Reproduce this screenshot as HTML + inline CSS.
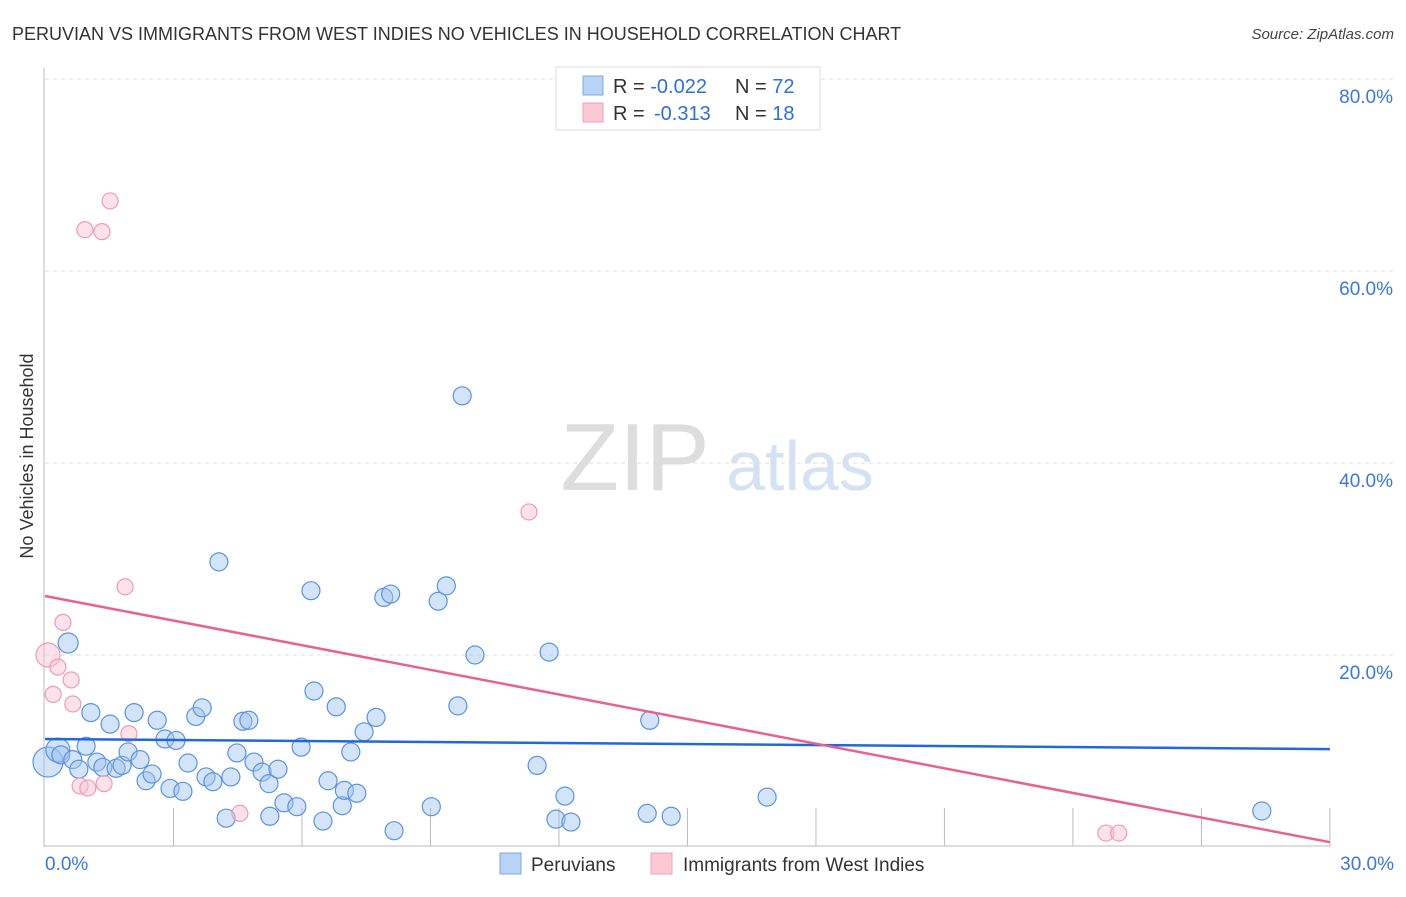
<!DOCTYPE html>
<html><head><meta charset="utf-8"><style>
body{margin:0;background:#fff;font-family:"Liberation Sans",sans-serif}
svg text{font-family:"Liberation Sans",sans-serif}
</style></head><body>
<svg id="chart" width="1406" height="892">
<text x="12" y="40" font-size="18" fill="#333">PERUVIAN VS IMMIGRANTS FROM WEST INDIES NO VEHICLES IN HOUSEHOLD CORRELATION CHART</text>
<text x="1394" y="39" font-size="15" fill="#444" font-style="italic" text-anchor="end">Source: ZipAtlas.com</text>
<text x="33" y="456" font-size="18" fill="#333" text-anchor="middle" transform="rotate(-90 33 456)">No Vehicles in Household</text>
<g><text x="635" y="490" font-size="96" fill="#ddd" font-family="Liberation Serif" text-anchor="middle">ZIP</text><text x="800" y="490" font-size="70" fill="#d5e2f3" text-anchor="middle">atlas</text></g>
<g id="grid"></g><g id="axes"></g><g id="marks"></g>
<g>
<rect x="556" y="67" width="264" height="63" fill="#fff" stroke="#ddd"/>
<rect x="583" y="76" width="20" height="19" fill="#b8d3f5" stroke="#7fa9e6"/>
<rect x="583" y="103" width="20" height="19" fill="#fcc8d6" stroke="#f0a0b8"/>
<text x="613" y="93" font-size="20" fill="#333">R = <tspan fill="#2f6fd6">-0.022</tspan><tspan x="735">N = </tspan><tspan fill="#2f6fd6">72</tspan></text>
<text x="613" y="120" font-size="20" fill="#333">R = <tspan x="654" fill="#2f6fd6">-0.313</tspan><tspan x="735">N = </tspan><tspan fill="#2f6fd6">18</tspan></text>
</g>
<g>
<rect x="500" y="853" width="21" height="21" fill="#b8d3f5" stroke="#7fa9e6"/>
<text x="531" y="871" font-size="19" fill="#333">Peruvians</text>
<rect x="651" y="853" width="21" height="21" fill="#fcc8d6" stroke="#f0a0b8"/>
<text x="683" y="871" font-size="19" fill="#333">Immigrants from West Indies</text>
</g>
</svg>
<script>
const xTicks=[0,30];
const yTicks=[20,40,60,80];
const blueX=[0.07,0.3,0.54,0.37,0.65,0.96,0.79,1.07,1.21,1.35,1.52,1.66,1.8,1.94,2.08,2.22,2.36,2.5,2.62,2.8,2.92,3.06,3.22,3.34,3.52,3.67,3.76,3.92,4.06,4.23,4.34,4.48,4.62,4.76,4.88,5.07,5.23,5.25,5.44,5.58,5.88,5.98,6.21,6.28,6.49,6.61,6.8,6.94,6.99,7.14,7.28,7.45,7.73,7.91,8.07,8.15,9.02,9.18,9.37,9.64,9.74,10.04,11.49,11.77,11.93,12.14,12.28,14.06,14.12,14.62,16.86,28.41];
const blueY=[8.85,10.1,21.25,9.6,9.1,10.5,8.1,14.0,8.85,8.3,12.8,8.2,8.5,9.9,14.0,9.1,6.9,7.6,13.2,11.25,6.1,11.1,5.8,8.75,13.6,14.5,7.3,6.8,29.7,3.0,7.3,9.8,13.1,13.2,8.85,7.8,6.6,3.2,8.1,4.6,4.2,10.4,26.7,16.25,2.7,6.9,14.6,4.3,5.9,9.9,5.6,12.0,13.5,26.0,26.35,1.7,4.2,25.6,27.2,14.7,47.0,20.0,8.5,20.3,2.9,5.3,2.6,3.5,13.2,3.2,5.2,3.75];
const blueR=[15,12,10,9,9,9,9,9,9,9,9,9,9,9,9,9,9,9,9,9,9,9,9,9,9,9,9,9,9,9,9,9,9,9,9,9,9,9,9,9,9,9,9,9,9,9,9,9,9,9,9,9,9,9,9,9,9,9,9,9,9,9,9,9,9,9,9,9,9,9,9,9];
const pinkX=[1.52,0.93,1.33,11.3,1.87,0.42,0.07,0.3,0.61,0.19,0.65,1.96,0.82,1.0,1.38,4.55,24.77,25.07];
const pinkY=[67.3,64.3,64.1,34.9,27.1,23.4,20.0,18.75,17.4,15.9,14.9,11.8,6.35,6.15,6.6,3.5,1.45,1.45];
const pinkR=[8,8,8,8,8,8,12,8,8,8,8,8,8,8,8,8,8,8];
const blueTrend=[11.25,10.2];
const pinkTrend=[26.15,0.5];
const NS='http://www.w3.org/2000/svg';
const sx=v=>45+v*42.83;
const sy=v=>847-v*9.6;
function mk(tag,attrs,parent){const e=document.createElementNS(NS,tag);for(const k in attrs)e.setAttribute(k,attrs[k]);document.getElementById(parent).appendChild(e);return e;}
yTicks.forEach(t=>{
 const l=mk('line',{x1:45,x2:1393,y1:sy(t),y2:sy(t),stroke:'#ddd','stroke-dasharray':'4,4'},'grid');
 
 
 const tx=mk('text',{x:1393,y:sy(t)+24,'font-size':19,fill:'#3a78d8','text-anchor':'end'},'grid');
 tx.textContent=t.toFixed(1)+'%';
 
 
});
const ax=mk('line',{x1:44,x2:44,y1:68,y2:847,stroke:'#bbb'},'axes');


const bx=mk('line',{x1:44,x2:1331,y1:846,y2:846,stroke:'#bbb'},'axes');


for(let i=1;i<=10;i++){
 const tk=mk('line',{x1:sx(i*3),x2:sx(i*3),y1:808,y2:846,stroke:'#bbb'},'axes');
 
 
}
xTicks.forEach((t,i)=>{
 const tx=mk('text',{x:i?1394:45,y:870,'font-size':19,fill:'#3a78d8','text-anchor':i?'end':'start'},'axes');
 tx.textContent=t.toFixed(1)+'%';
 
 
});
blueX.forEach((x,i)=>{
 const c=mk('circle',{cx:sx(x),cy:sy(blueY[i]),r:blueR[i],fill:'rgba(160,195,240,0.45)',stroke:'#5b93dd','stroke-width':1.2},'marks');
 
 
});
pinkX.forEach((x,i)=>{
 const c=mk('circle',{cx:sx(x),cy:sy(pinkY[i]),r:pinkR[i],fill:'rgba(250,190,210,0.45)',stroke:'#ee9ab4','stroke-width':1.2},'marks');
 
 
});
const bl=mk('line',{x1:sx(0),x2:sx(30),y1:sy(blueTrend[0]),y2:sy(blueTrend[1]),stroke:'#1f6ad4','stroke-width':2.5},'marks');


const pl=mk('line',{x1:sx(0),x2:sx(30),y1:sy(pinkTrend[0]),y2:sy(pinkTrend[1]),stroke:'#e8628e','stroke-width':2.5},'marks');


</script>
</body></html>
